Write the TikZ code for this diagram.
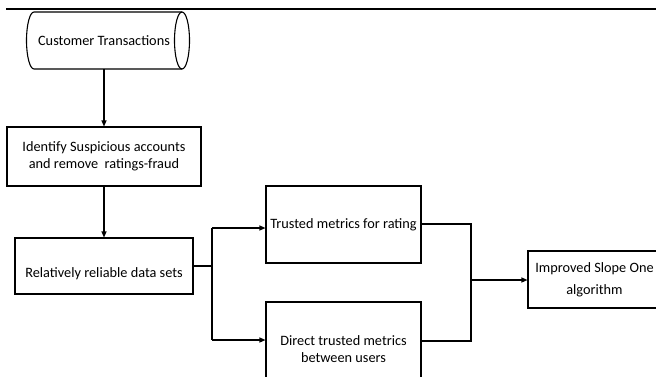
\documentclass[tikz,border=0pt]{standalone}
\usepackage{fontspec}
\setmainfont{Carlito}
\usetikzlibrary{arrows.meta}
\begin{document}
\begin{tikzpicture}[x=1pt,y=-1pt,
  line width=1.1pt,
  txt/.style={font=\fontsize{14.3}{16.5}\selectfont, align=center},
  box/.style={draw, line width=1.1pt, inner sep=0pt, txt},
  arr/.style={-{Triangle[length=6pt,width=5pt]}},
  lbl/.style={txt, inner sep=0pt}]
\useasboundingbox (0,0) rectangle (656,376);
\clip (0,0) rectangle (656,376);
\draw[line width=1.2pt] (6,9) -- (656,9);
% cylinder
\draw (182,12) -- (34,12) arc[start angle=270, end angle=90, x radius=7.5, y radius=28.5] -- (182,69);
\draw (182,40.5) ellipse[x radius=7.5, y radius=28.5];
\node[lbl] (cylt) at (104,41) {Customer Transactions};
\coordinate (cylb) at (104,69);
\node[box, minimum width=194pt, minimum height=59pt] (ident) at (104,156.5) {Identify Suspicious accounts\\and remove\ \ ratings-fraud};
\node[box, minimum width=178pt, minimum height=56pt] (rel) at (104,266) {};
\node[lbl] (relt) at (104,274) {Relatively reliable data sets};
\node[box, minimum width=155pt, minimum height=77pt] (trust) at (343.5,224.5) {Trusted metrics for rating};
\node[box, minimum width=155pt, minimum height=94pt] (direct) at (343.5,349) {Direct trusted metrics\\between users};
\node[box, minimum width=133pt, minimum height=57pt, font=\fontsize{14.3}{22}\selectfont] (slope) at (594.5,279.5) {Improved Slope One\\algorithm};
\coordinate (j1) at (212,266);
\coordinate (j2) at (471,280);
\draw[arr] (cylb) -- (ident.north);
\draw[arr] (ident.south) -- (rel.north);
\draw (rel.east |- j1) -- (j1);
\draw[arr] (j1 |- 0,228) -- (trust.west |- 0,228);
\draw (j1 |- 0,228) -- (j1 |- 0,340);
\draw[arr] (j1 |- 0,340) -- (direct.west |- 0,340);
\draw (trust.east |- 0,224) -- (j2 |- 0,224) -- (j2 |- 0,341) -- (direct.east |- 0,341);
\draw[arr] (j2) -- (slope.west |- j2);
\end{tikzpicture}
\end{document}
